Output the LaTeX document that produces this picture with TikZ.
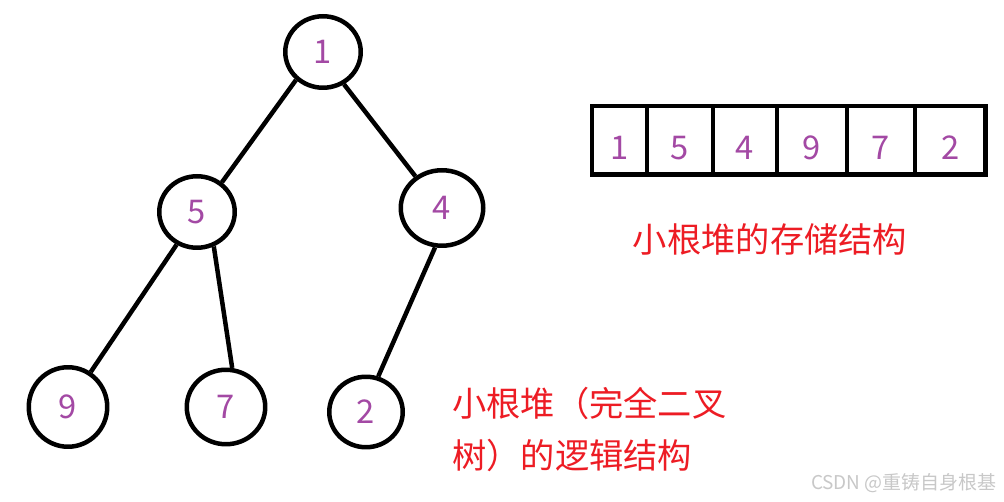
\documentclass[tikz,border=0pt]{standalone}
\usepackage{fontspec}
\setmainfont{Noto Sans CJK SC}
\usepackage{tikz}
\usetikzlibrary{positioning,shapes.geometric}
\definecolor{heapred}{HTML}{ED1C24}
\definecolor{heappurple}{HTML}{A349A4}
\definecolor{markgray}{HTML}{C8C8C8}

\begin{document}
\begin{tikzpicture}[
    x=0.02cm, y=-0.02cm, line width=0.09cm,
    num/.style={text=heappurple, font=\fontsize{18.6pt}{22pt}\selectfont},
    vert/.style={num, draw, ellipse, inner sep=0pt},
    cell/.style={num, draw, rectangle, outer sep=0pt, inner sep=0pt, minimum height=1.37cm, text height=0.76cm, text depth=0pt},
    note/.style={text=heapred, font=\fontsize{19.5pt}{29.6pt}\selectfont, inner sep=0pt}]
  \fill[white] (0,0) rectangle (1004,502);
  \useasboundingbox (0,0) rectangle (1004,502);
  \node[vert, minimum width=1.51cm, minimum height=1.43cm] (n1) at (323,52) {1};
  \node[vert, minimum width=1.51cm, minimum height=1.43cm] (n5) at (197,212) {5};
  \node[vert, minimum width=1.65cm, minimum height=1.51cm] (n4) at (442,208) {4};
  \node[vert, minimum width=1.57cm, minimum height=1.59cm] (n9) at (68,407) {9};
  \node[vert, minimum width=1.57cm, minimum height=1.49cm] (n7) at (226,407) {7};
  \node[vert, minimum width=1.47cm, minimum height=1.41cm] (n2) at (366,412) {2};
  \draw (n1.226) -- (n5.50);
  \draw (n1.303) -- (n4.130);
  \draw (n5.238) -- (n9.57);
  \draw (n5.296) -- (n7.81);
  \draw (n4.260) -- (n2.71);
  \node[cell, minimum width=1.095cm] (c1) at (619.6,140.5) {1};
  \node[cell, minimum width=1.32cm, right=0pt of c1] (c2) {5};
  \node[cell, minimum width=1.28cm, right=0pt of c2] (c3) {4};
  \node[cell, minimum width=1.40cm, right=0pt of c3] (c4) {9};
  \node[cell, minimum width=1.36cm, right=0pt of c4] (c5) {7};
  \node[cell, minimum width=1.415cm, right=0pt of c5] (c6) {2};
  \node[note] (store) at (770,239) {小根堆的存储结构};
  \node[note, anchor=west, align=left] (logic) at (450,429) {小根堆（完全二叉\\树）的逻辑结构};
  \node[anchor=east, inner sep=0pt, text=markgray, font=\fontsize{10.8pt}{12pt}\selectfont] (mark) at (999,483) {CSDN @重铸自身根基};
\end{tikzpicture}
\end{document}
